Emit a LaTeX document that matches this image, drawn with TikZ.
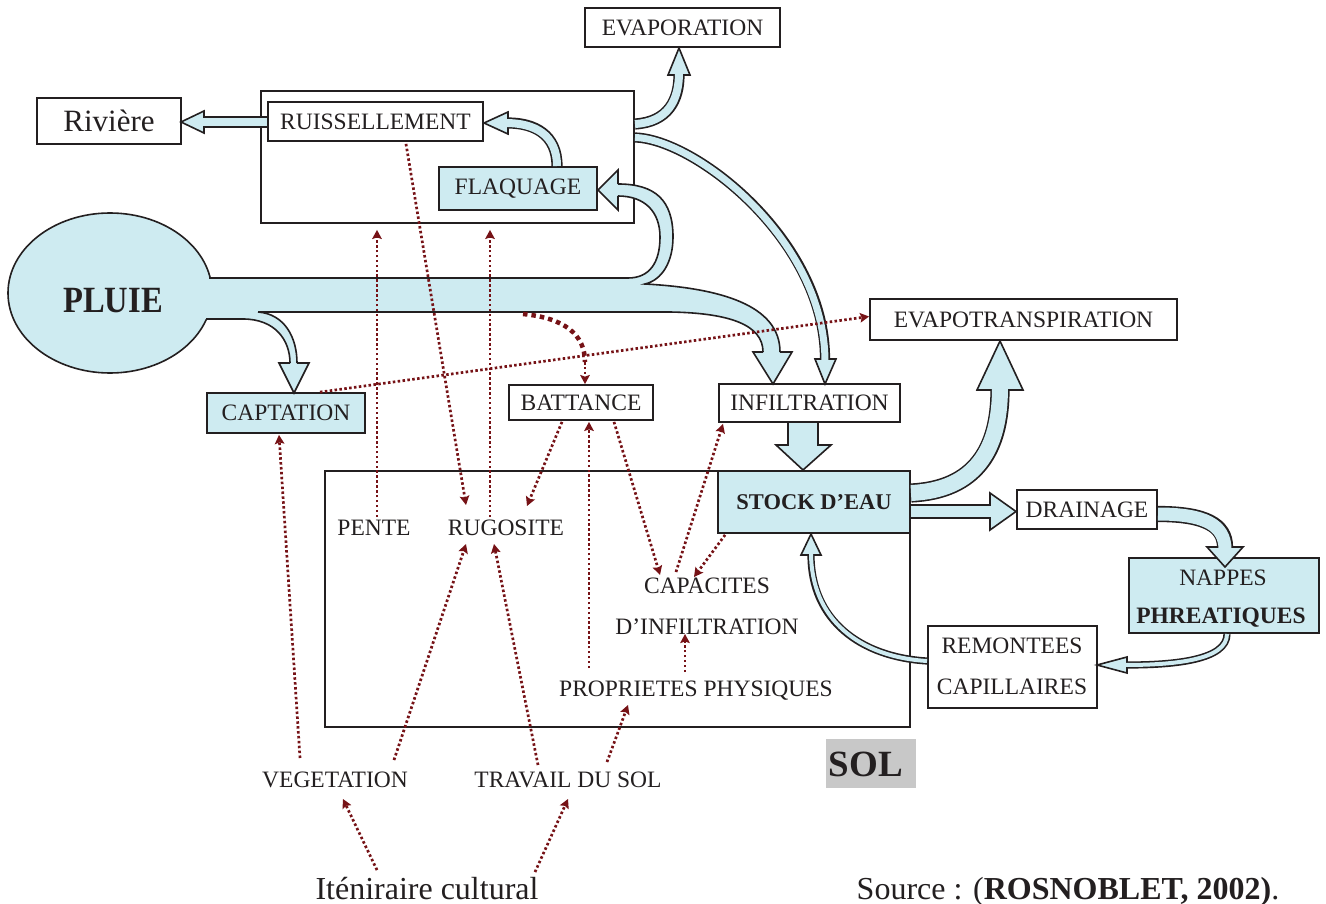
\documentclass[tikz,border=0pt]{standalone}
\usepackage{fontspec}
\setmainfont{Liberation Serif}
\usepackage{graphicx}
\usetikzlibrary{arrows.meta,calc,shapes.geometric}
\definecolor{lblue}{RGB}{206,235,241}
\definecolor{dred}{RGB}{118,18,22}
\definecolor{solgray}{RGB}{200,200,200}
\definecolor{ink}{RGB}{35,31,32}
\newcommand\barrow[3]{%
  \draw[ink,line width={#1+3.2}] #2;
  \filldraw[fill=lblue,draw=ink,line width=1.6pt,line join=miter] #3 -- cycle;
  \draw[lblue,line width={#1},shorten >=-2.5pt] #2;}
\begin{document}
\begin{tikzpicture}[x=1pt,y=-1pt,
  lab/.style={font=\fontsize{23.5}{26}\selectfont,text=ink,inner sep=0pt},
  blab/.style={lab,font=\bfseries\fontsize{23.5}{26}\selectfont},
  box/.style={lab,draw=ink,line width=1.8pt,fill=white},
  bbox/.style={box,fill=lblue},
  dots/.style={dred,line width=2.7pt,dash pattern=on 2.5pt off 2.4pt,-{Stealth[length=9pt,width=9.5pt,inset=1.5pt]}},
  thickdots/.style={dred,line width=4.5pt,dash pattern=on 4.5pt off 4pt},
  edge/.style={ink,line width=1.6pt}]
\useasboundingbox (0,0) rectangle (1326,904);
\fill[white] (0,0) rectangle (1326,904);

% ---------- boxes and labels ----------
\node[box,minimum width=373,minimum height=132,fill=none] (surf) at (447.5,157) {};
\node[box,minimum width=585,minimum height=256,fill=none] (solbox) at (617.5,599) {};
\node[box,minimum width=195,minimum height=39] (evap) at (682.5,27.5) {EVAPORATION};
\node[box,minimum width=144,minimum height=46,font=\fontsize{31}{34}\selectfont] (riv) at (109,121) {Rivière};
\node[box,minimum width=215,minimum height=39] (ruis) at (375.5,121.5) {RUISSELLEMENT};
\node[bbox,minimum width=158,minimum height=43] (flaq) at (518,188.5) {FLAQUAGE};
\node[bbox,minimum width=158,minimum height=40] (capt) at (286,413) {CAPTATION};
\node[box,minimum width=144,minimum height=35] (batt) at (581,402.5) {BATTANCE};
\node[box,minimum width=181,minimum height=38] (infil) at (809.5,403) {INFILTRATION};
\node[box,minimum width=307,minimum height=41] (evapot) at (1023.5,319.5) {EVAPOTRANSPIRATION};
\node[bbox,minimum width=192,minimum height=62,font=\bfseries\fontsize{22.5}{25}\selectfont] (stock) at (814,502) {STOCK D’EAU};
\node[box,minimum width=140,minimum height=39] (drain) at (1087,509.5) {DRAINAGE};
\node[bbox,minimum width=190,minimum height=75] (nappes) at (1224,595.5) {};
\node[lab] (nap1) at (1223,578) {NAPPES};
\node[blab] (nap2) at (1221,618) {PHREATIQUES};
\node[box,minimum width=169,minimum height=82] (remont) at (1012.5,667) {};
\node[lab] (rem1) at (1012,646) {REMONTEES};
\node[lab] (rem2) at (1012,687) {CAPILLAIRES};
\node[lab] (pente) at (374,528) {PENTE};
\node[lab] (rug) at (506,528) {RUGOSITE};
\node[lab] (cap1) at (707,586) {CAPACITES};
\node[lab] (cap2) at (707,627) {D’INFILTRATION};
\node[lab] (prop) at (696,691) {PROPRIETES PHYSIQUES};
\node[lab] (veg) at (335,780) {VEGETATION};
\node[lab] (trav) at (568,780) {TRAVAIL DU SOL};
\node[fill=solgray,minimum width=90,minimum height=49,inner sep=0pt] (solg) at (871,763.5) {};
\node[lab,font=\bfseries\fontsize{37}{40}\selectfont] (sol) at (866,764) {SOL};
\node[lab,font=\fontsize{32}{36}\selectfont,anchor=base] (itin) at (427,899) {Iténiraire cultural};
\node[lab,font=\fontsize{32}{36}\selectfont,anchor=base] (src) at (1068,899) {Source : (\textbf{ROSNOBLET, 2002)}.};

% ---------- PLUIE and the main pipe ----------
\node[ellipse,draw=ink,line width=1.6pt,fill=lblue,minimum width=204,minimum height=160,inner sep=0pt] (pluie) at (110,293) {};
\fill[lblue] (195,278) rectangle (640,312);
\fill[lblue] (628,278) .. controls (650,278) and (660,262) .. (660,237)
   .. controls (660,212) and (645,196) .. (618,196) -- (618,184)
   .. controls (655,184) and (673,200) .. (673,237)
   .. controls (673,262) and (662,280) .. (645,284) -- (645,295) -- (628,295) -- cycle;
\fill[lblue] (628,278) -- (645,284) .. controls (720,288) and (780,305) .. (780,352)
   -- (763,352) .. controls (763,325) and (730,313) .. (670,312) -- (628,312) -- cycle;
\fill[lblue] (200,310) -- (258,312) .. controls (285,314) and (297,338) .. (297,363)
   -- (290,363) .. controls (290,340) and (275,319) .. (243,319) -- (200,319) -- cycle;
% heads of the pipe branches
\fill[lblue] (618,170) -- (618,210) -- (598,190) -- cycle;
\fill[lblue] (753,352) -- (792,352) -- (773,384) -- cycle;
\fill[lblue] (279,363) -- (309,363) -- (294,393) -- cycle;
% edges
\draw[edge] (209,278) -- (628,278) .. controls (650,278) and (660,262) .. (660,237)
   .. controls (660,212) and (645,196) .. (618,196);
\draw[edge] (618,184) .. controls (655,184) and (673,200) .. (673,237)
   .. controls (673,262) and (662,280) .. (645,284)
   .. controls (720,288) and (780,305) .. (780,352);
\draw[edge] (258,312) -- (670,312) .. controls (730,313) and (763,325) .. (763,352);
\draw[edge] (206,319) -- (243,319) .. controls (275,319) and (290,340) .. (290,363);
\draw[edge] (258,312) .. controls (285,314) and (297,338) .. (297,363);
\draw[edge,line join=miter] (618,184) -- (618,170) -- (598,190) -- (618,210) -- (618,196);
\draw[edge,line join=miter] (763,352) -- (753,352) -- (773,384) -- (792,352) -- (780,352);
\draw[edge,line join=miter] (290,363) -- (279,363) -- (294,393) -- (309,363) -- (297,363);
\node[lab,font=\bfseries\fontsize{37}{40}\selectfont] (pluielbl) at (113,300.5) {\scalebox{0.88}[1]{PLUIE}};

% ---------- other flow arrows ----------
\barrow{8}{(267,122) -- (204,122)}{(204,111) -- (204,133) -- (181,122)}
\barrow{8}{(557,166) .. controls (557,135) and (535,123) .. (508,123)}{(508,112) -- (508,134) -- (484,123)}
\barrow{8}{(635,124) .. controls (668,122) and (679,100) .. (679,75)}{(668,75) -- (690,75) -- (679,48)}
\barrow{7}{(635,137.5) .. controls (695,139) and (825,240) .. (825,359)}{(815,359) -- (836,359) -- (825,384)}
\barrow{28}{(803,423) -- (803,445)}{(776,445) -- (831,445) -- (803,470)}
\barrow{16}{(911,493) .. controls (975,490) and (1000,450) .. (1000,390)}{(977,390) -- (1023,390) -- (1000,341)}
\barrow{11}{(911,511.5) -- (990,511.5)}{(990,493) -- (990,530) -- (1016,511.5)}
\barrow{13}{(1158,514) .. controls (1205,514) and (1225,525) .. (1225,547)}{(1207,547) -- (1243,547) -- (1225,567)}
\barrow{4}{(1227,634) .. controls (1227,660) and (1175,665) .. (1127,665)}{(1127,657) -- (1127,673) -- (1097,665)}
\barrow{4}{(927,661) .. controls (860,657) and (811,620) .. (811,555)}{(801,555) -- (821,555) -- (811,534)}

% ---------- dotted influence arrows ----------
\coordinate (pipeb) at (523,314);
\coordinate (bmid) at (585,362);
\draw[thickdots] (pipeb) .. controls (565,318) and (585,335) .. (bmid);
\draw[dots] (bmid) -- ($(batt.north)+(4,0)$);
\draw[dots] ($(pente)+(3,-11)$) -- ($(surf.south)+(-70.5,6)$);
\draw[dots] ($(rug)+(-16,-11)$) -- ($(surf.south)+(42.5,6)$);
\draw[dots] ($(ruis.south)+(30.5,2)$) -- ($(rug)+(-40,-23)$);
\draw[dots] ($(capt.north)+(34,0)$) -- ($(evapot.west)+(0,-3)$);
\draw[dots] ($(batt.south)+(-19,1)$) -- ($(rug)+(21,-22)$);
\draw[dots] ($(prop)+(-107,-23)$) -- ($(batt.south)+(8,1)$);
\draw[dots] ($(batt.south)+(33,1)$) -- ($(cap1)+(-47,-11)$);
\draw[dots] ($(cap1)+(-31,-14)$) -- ($(infil.south)+(-86.5,1)$);
\draw[dots] ($(stock.south west)+(8,1)$) -- ($(cap1)+(-13,-9)$);
\draw[dots] ($(prop)+(-11,-19)$) -- ($(cap2)+(-22,7)$);
\draw[dots] ($(veg)+(-35,-22)$) -- ($(capt.south)+(-7,1)$);
\draw[dots] ($(veg)+(59,-20)$) -- ($(rug)+(-40,16)$);
\draw[dots] ($(trav)+(-30,-15)$) -- ($(rug)+(-12,16)$);
\draw[dots] ($(trav)+(39,-18)$) -- ($(prop)+(-68,14)$);
\draw[dots] ($(itin)+(-50,-18)$) -- ($(veg)+(8,19)$);
\draw[dots] ($(itin)+(108,-16)$) -- ($(trav)+(0,19)$);
\end{tikzpicture}
\end{document}
